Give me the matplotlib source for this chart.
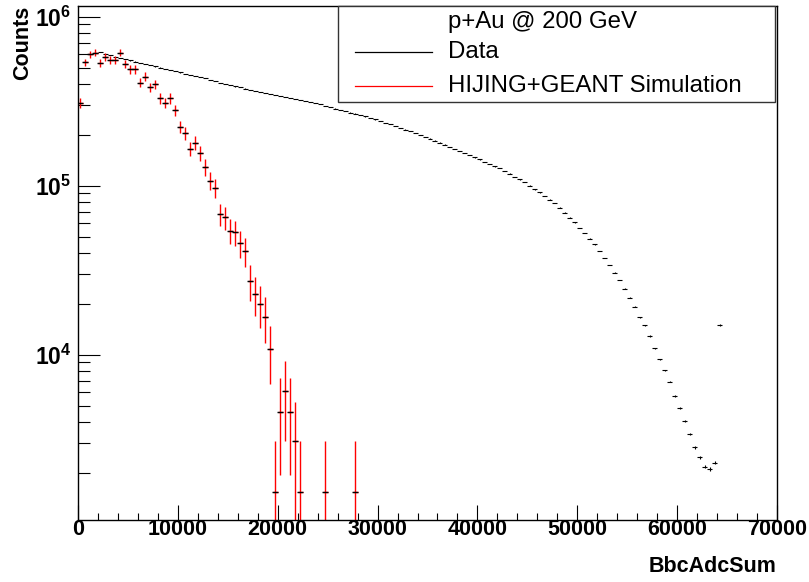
import matplotlib
matplotlib.use('Agg')
import matplotlib.pyplot as plt
import numpy as np
from matplotlib import font_manager
from matplotlib.lines import Line2D
from matplotlib.patches import Rectangle
from matplotlib.ticker import LogLocator, NullFormatter, MultipleLocator

# BbcAdcSum histograms, 500 ADC per bin starting at 0
bin_width = 500

data_counts = [
    0, 0, 6.04e5, 6.14e5, 6.15e5, 6.03e5, 5.91e5, 5.79e5, 5.68e5, 5.60e5,
    5.51e5, 5.43e5, 5.34e5, 5.24e5, 5.16e5, 5.08e5, 5.00e5, 4.92e5, 4.83e5, 4.75e5,
    4.68e5, 4.60e5, 4.53e5, 4.46e5, 4.41e5, 4.32e5, 4.24e5, 4.15e5, 4.06e5, 4.00e5,
    3.94e5, 3.87e5, 3.82e5, 3.76e5, 3.70e5, 3.65e5, 3.59e5, 3.55e5, 3.50e5, 3.45e5,
    3.40e5, 3.35e5, 3.30e5, 3.26e5, 3.21e5, 3.17e5, 3.12e5, 3.08e5, 3.03e5, 2.97e5,
    2.91e5, 2.86e5, 2.81e5, 2.76e5, 2.71e5, 2.67e5, 2.62e5, 2.57e5, 2.52e5, 2.47e5,
    2.42e5, 2.36e5, 2.31e5, 2.25e5, 2.20e5, 2.15e5, 2.10e5, 2.05e5, 2.00e5, 1.95e5,
    1.90e5, 1.85e5, 1.80e5, 1.75e5, 1.70e5, 1.65e5, 1.61e5, 1.56e5, 1.52e5, 1.47e5,
    1.43e5, 1.38e5, 1.34e5, 1.30e5, 1.27e5, 1.22e5, 1.18e5, 1.13e5, 1.09e5, 1.05e5,
    1.00e5, 9.50e4, 9.12e4, 8.69e4, 8.28e4, 7.90e4, 7.43e4, 6.94e4, 6.48e4, 6.06e4,
    5.62e4, 5.25e4, 4.87e4, 4.49e4, 4.11e4, 3.74e4, 3.40e4, 3.06e4, 2.77e4, 2.46e4,
    2.17e4, 1.92e4, 1.67e4, 1.49e4, 1.29e4, 1.09e4, 9.38e3, 8.07e3, 6.94e3, 5.70e3,
    4.84e3, 4.06e3, 3.40e3, 2.84e3, 2.48e3, 2.17e3, 2.11e3, 2.29e3, 1.50e4,
]

sim_counts = [
    3.10e5, 5.37e5, 6.00e5, 6.13e5, 5.30e5, 5.80e5, 5.54e5, 5.54e5, 6.13e5, 5.23e5,
    4.88e5, 4.88e5, 4.07e5, 4.42e5, 3.82e5, 3.98e5, 3.29e5, 3.10e5, 3.29e5, 2.80e5,
    2.23e5, 2.04e5, 1.66e5, 1.79e5, 1.56e5, 1.29e5, 1.07e5, 9.70e4, 6.80e4, 6.50e4,
    5.42e4, 5.30e4, 4.56e4, 4.09e4, 2.74e4, 2.28e4, 1.99e4, 1.68e4, 1.08e4, 1535,
    4605, 6140, 4605, 3070, 1535, 0, 0, 0, 0, 1535,
    0, 0, 0, 0, 0, 1535,
]
sim_weight = 1535  # scale of one simulated entry

x_ticks = list(range(0, 70001, 10000))
legend_header = 'p+Au @ 200 GeV'
legend_labels = ['Data', 'HIJING+GEANT Simulation']

names = {f.name for f in font_manager.fontManager.ttflist}
narrow = 'Liberation Sans Narrow' in names
bold_family = 'Liberation Sans Narrow' if narrow else 'Liberation Sans'
bold_size = 18.5 if narrow else 15.5

plt.rcParams['font.family'] = [bold_family, 'DejaVu Sans']
plt.rcParams['font.weight'] = 'bold'
plt.rcParams['font.size'] = bold_size
plt.rcParams['axes.labelweight'] = 'bold'
plt.rcParams['mathtext.fontset'] = 'custom'
plt.rcParams['mathtext.bf'] = bold_family + ':bold'
plt.rcParams['mathtext.rm'] = bold_family + ':bold'

fig = plt.figure(figsize=(8.09, 5.82), dpi=100)
ax = fig.add_axes([78 / 809, 1 - 520 / 582, 699 / 809, 514.3 / 582])

d = np.array(data_counts, dtype=float)
xd = np.arange(len(d)) * bin_width + bin_width / 2
md = d > 0
ax.errorbar(xd[md], d[md], xerr=bin_width / 2, yerr=np.sqrt(d[md]),
            fmt='none', ecolor='black', elinewidth=0.8)

s = np.array(sim_counts, dtype=float)
xs = np.arange(len(s)) * bin_width + bin_width / 2
ms = s > 0
err = np.sqrt(s * sim_weight)
lo = np.minimum(err, s - 1)
ax.errorbar(xs[ms], s[ms], xerr=bin_width / 2, yerr=[lo[ms], err[ms]],
            fmt='_', color='black', ms=4, mew=1.0, ecolor='red', elinewidth=1.0)

ax.set_yscale('log')
ax.set_xlim(0, 70000)
ax.set_ylim(1052, 1.162e6)

ax.set_xticks(x_ticks)
ax.set_xticklabels([str(v) for v in x_ticks])
ax.xaxis.set_minor_locator(MultipleLocator(2000))

ax.set_yticks([1e4, 1e5, 1e6])
ax.set_yticklabels([r'$\mathbf{10^{4}}$', r'$\mathbf{10^{5}}$', r'$\mathbf{10^{6}}$'],
                   fontsize=bold_size + 1)
ax.yaxis.set_minor_locator(LogLocator(base=10, subs=np.arange(2, 10)))
ax.yaxis.set_minor_formatter(NullFormatter())

ax.tick_params(axis='x', which='major', direction='in', length=10.8, width=0.8, pad=-1)
ax.tick_params(axis='x', which='minor', direction='in', length=5, width=0.8)
ax.tick_params(axis='y', which='major', direction='in', length=15.8, width=0.8, pad=5)
ax.tick_params(axis='y', which='minor', direction='in', length=8.6, width=0.8)
for sp in ax.spines.values():
    sp.set_linewidth(1.0)

ax.set_xlabel('BbcAdcSum', loc='right', fontweight='bold')
ax.xaxis.set_label_coords(1.0, -0.07)
ax.set_ylabel('Counts', loc='top', fontweight='bold')
ax.yaxis.set_label_coords(-0.064, 1.0)

# legend box, ROOT style
fig.add_artist(Rectangle((338 / 809, 1 - 101.7 / 582), 437 / 809, 96 / 582,
                         transform=fig.transFigure, facecolor='white',
                         edgecolor='#333333', linewidth=1.0, zorder=5))
rows = [21.7, 52.0, 85.5]
fig.text(448 / 809, 1 - rows[0] / 582, legend_header, va='center', ha='left',
         family='Liberation Sans', weight='normal', fontsize=17.3, zorder=6)
for y, lab, col in zip(rows[1:], legend_labels, ['black', 'red']):
    fig.add_artist(Line2D([355 / 809, 432 / 809], [1 - y / 582, 1 - y / 582],
                          transform=fig.transFigure, color=col, linewidth=0.9, zorder=6))
    fig.text(448 / 809, 1 - y / 582, lab, va='center', ha='left',
             family='Liberation Sans', weight='normal', fontsize=17.3, zorder=6)

plt.savefig('out.png', dpi=100)
